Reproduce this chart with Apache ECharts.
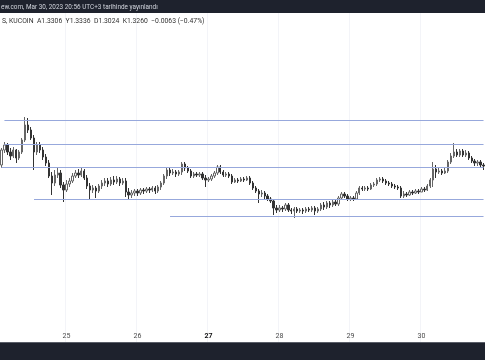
<!DOCTYPE html>
<html><head><meta charset="utf-8">
<script src="https://cdn.jsdelivr.net/npm/echarts@6/dist/echarts.min.js"></script>
<style>html,body{margin:0;padding:0;background:#fff}#c{width:485px;height:360px}</style>
</head><body><div id="c"></div>
<script>
// hourly candles starting Mar 24, 02:00
const startDay = 24, startHour = 2;
const dayLabels = ['25','26','27','28','29','30'];
const openP = [
1.3275,1.3350,1.3375,1.3340,1.3320,1.3350,1.3310,1.3340,1.3400,1.3475,
1.3450,1.3410,1.3340,1.3375,1.3350,1.3315,1.3285,1.3220,1.3185,1.3225,
1.3235,1.3175,1.3150,1.3180,1.3195,1.3220,1.3235,1.3225,1.3245,1.3210,
1.3170,1.3150,1.3160,1.3145,1.3170,1.3185,1.3195,1.3180,1.3200,1.3190,
1.3205,1.3185,1.3195,1.3140,1.3125,1.3135,1.3145,1.3135,1.3150,1.3145,
1.3155,1.3150,1.3160,1.3145,1.3165,1.3185,1.3220,1.3250,1.3235,1.3240,
1.3230,1.3240,1.3280,1.3260,1.3245,1.3220,1.3230,1.3225,1.3230,1.3210,
1.3200,1.3205,1.3220,1.3235,1.3265,1.3240,1.3225,1.3230,1.3220,1.3190,
1.3200,1.3195,1.3205,1.3200,1.3210,1.3185,1.3160,1.3145,1.3130,1.3135,
1.3120,1.3105,1.3095,1.3060,1.3050,1.3060,1.3055,1.3075,1.3050,1.3045,
1.3055,1.3045,1.3050,1.3045,1.3055,1.3050,1.3060,1.3045,1.3055,1.3075,
1.3065,1.3085,1.3075,1.3090,1.3080,1.3110,1.3130,1.3120,1.3105,1.3110,
1.3105,1.3135,1.3160,1.3155,1.3160,1.3155,1.3175,1.3180,1.3200,1.3205,
1.3195,1.3185,1.3180,1.3170,1.3165,1.3160,1.3120,1.3130,1.3125,1.3140,
1.3135,1.3145,1.3140,1.3155,1.3150,1.3170,1.3200,1.3255,1.3240,1.3245,
1.3235,1.3245,1.3290,1.3320,1.3340,1.3325,1.3345,1.3325,1.3335,1.3310,
1.3295,1.3285,1.3290,1.3275];
const closeP = [
1.3350,1.3375,1.3340,1.3320,1.3350,1.3310,1.3340,1.3400,1.3475,1.3450,
1.3410,1.3340,1.3375,1.3350,1.3315,1.3285,1.3220,1.3185,1.3225,1.3235,
1.3175,1.3150,1.3180,1.3195,1.3220,1.3235,1.3225,1.3245,1.3210,1.3170,
1.3150,1.3160,1.3145,1.3170,1.3185,1.3195,1.3180,1.3200,1.3190,1.3205,
1.3185,1.3195,1.3140,1.3125,1.3135,1.3145,1.3135,1.3150,1.3145,1.3155,
1.3150,1.3160,1.3145,1.3165,1.3185,1.3220,1.3250,1.3235,1.3240,1.3230,
1.3240,1.3280,1.3260,1.3245,1.3220,1.3230,1.3225,1.3230,1.3210,1.3200,
1.3205,1.3220,1.3235,1.3265,1.3240,1.3225,1.3230,1.3220,1.3190,1.3200,
1.3195,1.3205,1.3200,1.3210,1.3185,1.3160,1.3145,1.3130,1.3135,1.3120,
1.3105,1.3095,1.3060,1.3050,1.3060,1.3055,1.3075,1.3050,1.3045,1.3055,
1.3045,1.3050,1.3045,1.3055,1.3050,1.3060,1.3045,1.3055,1.3075,1.3065,
1.3085,1.3075,1.3090,1.3080,1.3110,1.3130,1.3120,1.3105,1.3110,1.3105,
1.3135,1.3160,1.3155,1.3160,1.3155,1.3175,1.3180,1.3200,1.3205,1.3195,
1.3185,1.3180,1.3170,1.3165,1.3160,1.3120,1.3130,1.3125,1.3140,1.3135,
1.3145,1.3140,1.3155,1.3150,1.3170,1.3200,1.3255,1.3240,1.3245,1.3235,
1.3245,1.3290,1.3320,1.3340,1.3325,1.3345,1.3325,1.3335,1.3310,1.3295,
1.3285,1.3290,1.3275,1.3270];
const highP = [
1.3360,1.3390,1.3385,1.3360,1.3365,1.3355,1.3350,1.3410,1.3515,1.3510,
1.3465,1.3425,1.3390,1.3390,1.3365,1.3330,1.3300,1.3240,1.3250,1.3260,
1.3250,1.3190,1.3200,1.3210,1.3235,1.3250,1.3255,1.3260,1.3255,1.3225,
1.3185,1.3175,1.3170,1.3180,1.3200,1.3210,1.3210,1.3215,1.3220,1.3220,
1.3215,1.3210,1.3210,1.3160,1.3150,1.3155,1.3155,1.3160,1.3160,1.3165,
1.3165,1.3170,1.3170,1.3175,1.3195,1.3230,1.3260,1.3260,1.3255,1.3250,
1.3250,1.3290,1.3290,1.3270,1.3255,1.3240,1.3240,1.3240,1.3240,1.3225,
1.3215,1.3230,1.3245,1.3275,1.3275,1.3250,1.3240,1.3240,1.3230,1.3210,
1.3210,1.3215,1.3215,1.3220,1.3220,1.3195,1.3170,1.3155,1.3150,1.3145,
1.3130,1.3115,1.3105,1.3075,1.3075,1.3070,1.3085,1.3085,1.3060,1.3065,
1.3065,1.3060,1.3060,1.3065,1.3065,1.3070,1.3070,1.3065,1.3085,1.3090,
1.3095,1.3095,1.3100,1.3105,1.3120,1.3140,1.3140,1.3130,1.3120,1.3120,
1.3145,1.3170,1.3170,1.3170,1.3170,1.3185,1.3190,1.3210,1.3215,1.3215,
1.3205,1.3195,1.3190,1.3180,1.3175,1.3170,1.3145,1.3140,1.3150,1.3150,
1.3155,1.3155,1.3165,1.3165,1.3180,1.3210,1.3290,1.3275,1.3260,1.3255,
1.3260,1.3300,1.3335,1.3385,1.3355,1.3355,1.3355,1.3350,1.3345,1.3320,
1.3305,1.3300,1.3300,1.3285];
const lowP = [
1.3260,1.3335,1.3325,1.3300,1.3310,1.3285,1.3300,1.3330,1.3390,1.3435,
1.3400,1.3250,1.3325,1.3335,1.3300,1.3270,1.3210,1.3125,1.3170,1.3210,
1.3160,1.3090,1.3140,1.3165,1.3185,1.3210,1.3210,1.3215,1.3200,1.3155,
1.3100,1.3135,1.3110,1.3135,1.3155,1.3170,1.3165,1.3170,1.3175,1.3180,
1.3170,1.3175,1.3115,1.3100,1.3110,1.3120,1.3120,1.3125,1.3130,1.3135,
1.3135,1.3140,1.3130,1.3135,1.3150,1.3175,1.3205,1.3220,1.3225,1.3215,
1.3220,1.3225,1.3245,1.3235,1.3210,1.3210,1.3215,1.3215,1.3200,1.3165,
1.3190,1.3195,1.3210,1.3225,1.3230,1.3215,1.3215,1.3210,1.3180,1.3185,
1.3185,1.3190,1.3190,1.3195,1.3175,1.3150,1.3135,1.3085,1.3115,1.3105,
1.3095,1.3085,1.3025,1.3035,1.3040,1.3040,1.3045,1.3040,1.3030,1.3010,
1.3035,1.3035,1.3030,1.3035,1.3040,1.3040,1.3025,1.3035,1.3045,1.3050,
1.3055,1.3060,1.3065,1.3070,1.3070,1.3100,1.3110,1.3095,1.3095,1.3095,
1.3100,1.3125,1.3145,1.3145,1.3145,1.3150,1.3165,1.3170,1.3190,1.3185,
1.3175,1.3170,1.3160,1.3155,1.3150,1.3110,1.3110,1.3115,1.3120,1.3125,
1.3130,1.3130,1.3140,1.3140,1.3145,1.3160,1.3165,1.3210,1.3230,1.3225,
1.3230,1.3235,1.3280,1.3310,1.3315,1.3315,1.3315,1.3315,1.3300,1.3285,
1.3270,1.3270,1.3260,1.3250];
// horizontal drawn levels: [start candle index, price]
const levelStart = [1, 1, 0, 11, 57];
const levelPrice = [1.3500, 1.3380, 1.3265, 1.3105, 1.3020];

const cats = [];
const dayStart = [];
for (let i = 0; i < openP.length; i++) {
  const h = (startHour + i) % 24;
  const d = startDay + Math.floor((startHour + i) / 24);
  cats.push(String(d));
  dayStart.push(h === 0 && dayLabels.indexOf(String(d)) >= 0);
}
const candles = openP.map((o, i) => [o, closeP[i], lowP[i], highP[i]]);
const isDay = (idx) => dayStart[idx];

const chart = echarts.init(document.getElementById('c'), null, {renderer: 'canvas'});
chart.setOption({
  animation: false,
  backgroundColor: '#ffffff',
  grid: {left: 0, right: 0, top: 13, bottom: 18},
  xAxis: {
    type: 'category', data: cats, boundaryGap: true,
    axisLine: {show: false}, axisTick: {show: false},
    axisLabel: {
      inside: true, margin: 2, interval: isDay, fontSize: 7, color: '#4a4a4a',
      fontFamily: 'Roboto',
      formatter: (v) => v === '27' ? '{b|' + v + '}' : v,
      rich: {b: {fontWeight: 'bold', color: '#111', fontSize: 7, fontFamily: 'Roboto'}}
    },
    splitLine: {show: true, interval: isDay, lineStyle: {color: '#f3f4f8', width: 1}}
  },
  yAxis: {type: 'value', show: false, min: 1.239, max: 1.4035, splitLine: {show: false}},
  series: [{
    type: 'candlestick', data: candles, barWidth: '62%',
    itemStyle: {color: '#ffffff', color0: '#333333', borderColor: '#666666', borderColor0: '#333333', borderWidth: 1},
    markLine: {
      silent: true, symbol: 'none', animation: false,
      label: {show: false},
      lineStyle: {color: '#97a8dc', width: 1, type: 'solid'},
      data: levelPrice.map((p, k) => [{coord: [levelStart[k], p]}, {coord: [openP.length - 1, p]}])
    }
  }],
  graphic: [
    {type: 'rect', z: 100, shape: {x: 0, y: 0, width: 485, height: 13}, style: {fill: '#1e222d'}},
    {type: 'text', z: 101, x: 1, y: 7, style: {text: 'ew.com, Mar 30, 2023 20:56 UTC+3 tarihinde yayınlandı', fill: '#d1d4dc', fontSize: 6.4, fontFamily: 'Roboto', verticalAlign: 'middle'}},
    {type: 'text', z: 101, x: 2, y: 21, style: {text: 'S, KUCOIN  A1.3306  Y1.3336  D1.3024  K1.3260  −0.0063 (−0.47%)', fill: '#333333', fontSize: 6.8, fontFamily: 'Roboto', verticalAlign: 'middle'}},
    {type: 'rect', z: 100, shape: {x: 0, y: 342, width: 485, height: 18}, style: {fill: '#1e222d'}},
    {type: 'line', z: 101, shape: {x1: 0, y1: 342.5, x2: 485, y2: 342.5}, style: {stroke: '#5a5e68', lineWidth: 1}}
  ]
});
</script></body></html>
